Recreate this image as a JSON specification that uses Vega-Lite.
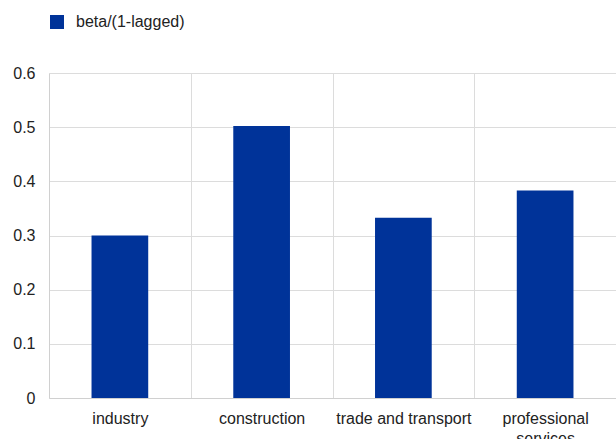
{
  "$schema": "https://vega.github.io/schema/vega-lite/v6.json",
  "autosize": {"type": "none"},
  "padding": {"left": 49, "top": 73, "right": 0, "bottom": 41},
  "width": 567,
  "height": 325,
  "background": "white",
  "config": {
    "view": {"stroke": null},
    "font": "Liberation Sans"
  },
  "data": {
    "values": [
      {"sector": "industry", "series": "beta/(1-lagged)", "value": 0.300},
      {"sector": "construction", "series": "beta/(1-lagged)", "value": 0.502},
      {"sector": "trade and transport", "series": "beta/(1-lagged)", "value": 0.333},
      {"sector": "professional services", "series": "beta/(1-lagged)", "value": 0.383}
    ]
  },
  "mark": {"type": "bar", "width": {"band": 0.4}},
  "encoding": {
    "x": {
      "field": "sector",
      "type": "nominal",
      "sort": null,
      "scale": {"paddingInner": 0, "paddingOuter": 0},
      "axis": {
        "title": null,
        "labelAngle": 0,
        "labelFontSize": 16,
        "labelColor": "#222222",
        "labelPadding": 12,
        "labelLineHeight": 20,
        "labelExpr": "datum.value == 'professional services' ? ['professional', 'services'] : datum.value",
        "ticks": false,
        "tickBand": "extent",
        "grid": true,
        "gridColor": "#dcdcdc",
        "domainColor": "#d0d0d0",
        "labelOverlap": false,
        "labelLimit": 0
      }
    },
    "y": {
      "field": "value",
      "type": "quantitative",
      "scale": {"domain": [0, 0.6], "nice": false},
      "axis": {
        "title": null,
        "values": [0, 0.1, 0.2, 0.3, 0.4, 0.5, 0.6],
        "labelExpr": "datum.value == 0 ? '0' : format(datum.value, '.1f')",
        "labelFontSize": 16,
        "labelColor": "#222222",
        "labelPadding": 14,
        "ticks": false,
        "grid": true,
        "gridColor": "#dcdcdc",
        "domain": true,
        "domainColor": "#d0d0d0"
      }
    },
    "color": {
      "field": "series",
      "type": "nominal",
      "scale": {"range": ["#003399"]},
      "legend": {
        "title": null,
        "orient": "none",
        "legendX": 0,
        "legendY": -59,
        "symbolType": "square",
        "symbolSize": 196,
        "symbolStrokeWidth": 0,
        "labelFontSize": 16,
        "labelColor": "#222222",
        "labelOffset": 11
      }
    }
  }
}
